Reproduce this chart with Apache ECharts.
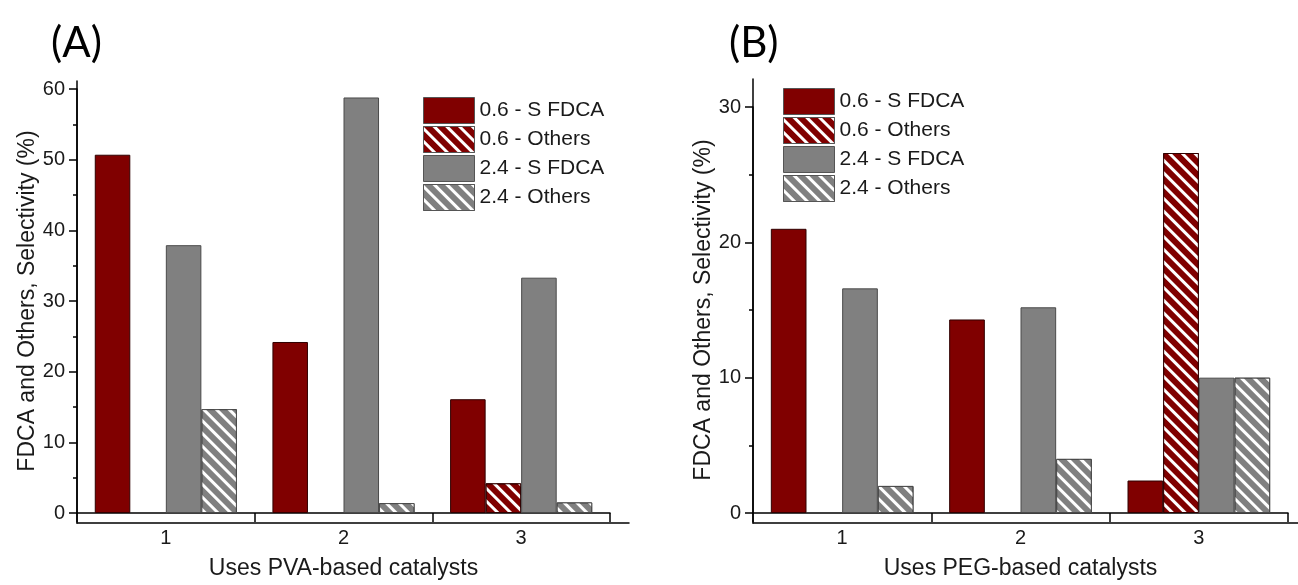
<!DOCTYPE html>
<html>
<head>
<meta charset="utf-8">
<script src="https://cdn.jsdelivr.net/npm/echarts@6/dist/echarts.min.js"></script>
<style>
html,body{margin:0;padding:0;background:#fff;}
#main{width:1298px;height:585px;}
</style>
</head>
<body>
<div id="main"></div>
<script>
//类别和图例
var categories = ['1', '2', '3'];
var seriesNames = ['0.6 - S FDCA', '0.6 - Others', '2.4 - S FDCA', '2.4 - Others'];

//(A) PVA
var pvaSfdca06 = [50.7, 24.2, 16.1];
var pvaOthers06 = [0, 0, 4.2];
var pvaSfdca24 = [37.9, 58.8, 33.3];
var pvaOthers24 = [14.7, 1.4, 1.5];

//(B) PEG
var pegSfdca06 = [21.0, 14.3, 2.4];
var pegOthers06 = [0, 0, 26.6];
var pegSfdca24 = [16.6, 15.2, 10.0];
var pegOthers24 = [2.0, 4.0, 10.0];

//y轴范围
var yMaxA = 60, yMaxB = 30, yStep = 10;

var RED = '#800000', GRAY = '#808080';
var fontName = 'Liberation Sans, Arial, sans-serif';

//白色斜线填充
var stripes = {
	symbol: 'rect', symbolSize: 1, color: '#ffffff',
	dashArrayX: [1, 0], dashArrayY: [3, 6], rotation: Math.PI / 4
};

function styleOf(i){
	var solid = (i % 2 === 0);
	var c = i < 2 ? RED : GRAY;
	var s = {color: c, borderColor: i < 2 ? '#300000' : '#4a4a4a', borderWidth: 1};
	if(!solid) s.decal = stripes;
	return s;
}

function barSeries(data, idx, axis){
	return {
		name: seriesNames[idx], type: 'bar',
		//0值不画柱子(否则边框会压在坐标轴上)
		data: data.map(function(v){ return v === 0 ? '-' : v; }),
		xAxisIndex: axis, yAxisIndex: axis,
		barGap: '0%', barCategoryGap: '20%',
		itemStyle: styleOf(idx),
		emphasis: {disabled: true}
	};
}

var lineOnly = {
	show: true, axisLine: {show: true, lineStyle: {color: '#000', width: 1.5}},
	axisTick: {show: false}, axisLabel: {show: false}, splitLine: {show: false}
};

function yMain(max, gi, name, gap){
	return {
		type: 'value', gridIndex: gi, min: 0, max: max, interval: yStep,
		name: name, nameLocation: 'middle', nameGap: gap, nameRotate: 90,
		nameTextStyle: {fontFamily: fontName, fontSize: 23, color: '#1a1a1a'},
		axisLine: {show: true, lineStyle: {color: '#000', width: 1.5}},
		axisTick: {show: true, inside: false, length: 8, lineStyle: {color: '#000', width: 1.5}},
		minorTick: {show: true, splitNumber: 2, length: 4, lineStyle: {color: '#000', width: 1.5}},
		axisLabel: {fontFamily: fontName, fontSize: 20, color: '#1a1a1a', margin: 12},
		splitLine: {show: false}
	};
}

function xMain(gi, name){
	return {
		type: 'category', gridIndex: gi, data: categories,
		name: name, nameLocation: 'middle', nameGap: 44,
		nameTextStyle: {fontFamily: fontName, fontSize: 23, color: '#1a1a1a'},
		axisLine: {show: true, lineStyle: {color: '#000', width: 1.5}},
		axisTick: {show: true, length: 9, lineStyle: {color: '#000', width: 1.5}},
		axisLabel: {fontFamily: fontName, fontSize: 20, color: '#1a1a1a', margin: 15},
		splitLine: {show: false}
	};
}

//只画轴线的辅助坐标轴(轴线比刻度范围长一点)
function overlayAxis(gi){
	var a = JSON.parse(JSON.stringify(lineOnly));
	a.type = 'value'; a.gridIndex = gi; a.min = 0; a.max = 1;
	return a;
}

function legendAt(left, top){
	return {
		left: left, top: top, orient: 'vertical', icon: 'rect',
		itemWidth: 51, itemHeight: 26, itemGap: 2,
		itemStyle: {borderWidth: 1, borderColor: '#555'},
		data: seriesNames, selectedMode: false,
		textStyle: {fontFamily: fontName, fontSize: 21, color: '#1a1a1a'}
	};
}

var chart = echarts.init(document.getElementById('main'));

var option = {
	backgroundColor: '#fff',
	animation: false,
	title: [
		{text: '(A)', left: 46, top: 17, textStyle: {fontFamily: 'Lato, sans-serif', fontWeight: 'normal', fontSize: 42, color: '#000'}},
		{text: '(B)', left: 724, top: 17, textStyle: {fontFamily: 'Lato, sans-serif', fontWeight: 'normal', fontSize: 42, color: '#000'}}
	],
	legend: [legendAt(418, 92), legendAt(778, 83)],
	grid: [
		{left: 77, top: 89, right: 688, bottom: 62},
		{left: 77, top: 81, right: 669, bottom: 62},
		{left: 753, top: 107, right: 10, bottom: 62},
		{left: 753, top: 79, right: 0, bottom: 62}
	],
	xAxis: [
		xMain(0, 'Uses PVA-based catalysts'),
		overlayAxis(1),
		xMain(2, 'Uses PEG-based catalysts'),
		overlayAxis(3)
	],
	yAxis: [
		yMain(yMaxA, 0, 'FDCA and Others, Selectivity (%)', 36),
		overlayAxis(1),
		yMain(yMaxB, 2, 'FDCA and Others, Selectivity (%)', 38),
		overlayAxis(3)
	],
	series: [
		barSeries(pvaSfdca06, 0, 0),
		barSeries(pvaOthers06, 1, 0),
		barSeries(pvaSfdca24, 2, 0),
		barSeries(pvaOthers24, 3, 0),
		barSeries(pegSfdca06, 0, 2),
		barSeries(pegOthers06, 1, 2),
		barSeries(pegSfdca24, 2, 2),
		barSeries(pegOthers24, 3, 2)
	]
};

chart.setOption(option);
</script>
</body>
</html>
